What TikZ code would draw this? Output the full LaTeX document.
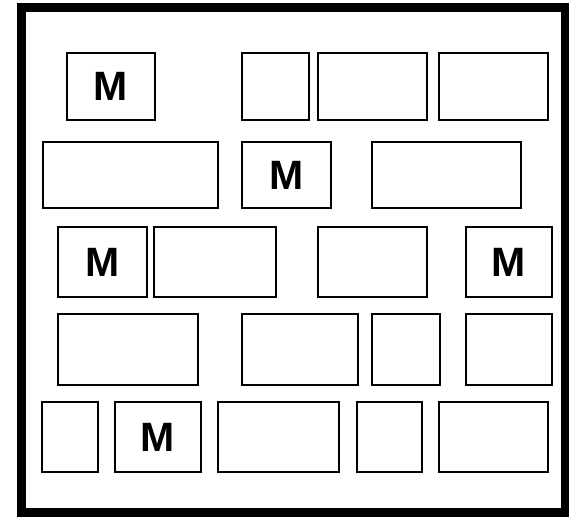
\documentclass[tikz,border=0pt]{standalone}
\usepackage{fontspec}
\setmainfont{Liberation Sans}
\usepackage{tikz}

\begin{document}
\begin{tikzpicture}[x=0.5pt,y=-0.5pt,
  b/.style={draw,line width=1.3pt,inner sep=0pt,outer sep=0pt,
    font=\fontsize{20.5}{24}\selectfont\bfseries},
  w/.style={minimum width=#1*0.5pt},
  h/.style={minimum height=#1*0.5pt}]
 \useasboundingbox (0,0) rectangle (569,517);
 \draw[line width=4.5pt] (21,8) rectangle (565.5,513);
 % row 1
 \node[b,w=88,h=67] (a1) at (111,86.5) {M};
 \node[b,w=67,h=67] (a2) at (275.5,86.5) {};
 \node[b,w=109,h=67] (a3) at (372.5,86.5) {};
 \node[b,w=109,h=67] (a4) at (493.5,86.5) {};
 % row 2
 \node[b,w=175,h=66] (b1) at (130.5,175) {};
 \node[b,w=89,h=66] (b2) at (286.5,175) {M};
 \node[b,w=149,h=66] (b3) at (446.5,175) {};
 % row 3
 \node[b,w=89,h=70] (c1) at (102.5,262) {M};
 \node[b,w=122,h=70] (c2) at (215,262) {};
 \node[b,w=109,h=70] (c3) at (372.5,262) {};
 \node[b,w=86,h=70] (c4) at (509,262) {M};
 % row 4
 \node[b,w=140,h=71] (d1) at (128,349.5) {};
 \node[b,w=116,h=71] (d2) at (300,349.5) {};
 \node[b,w=68,h=71] (d3) at (406,349.5) {};
 \node[b,w=86,h=71] (d4) at (509,349.5) {};
 % row 5
 \node[b,w=56,h=70] (e1) at (70,437) {};
 \node[b,w=86,h=70] (e2) at (158,437) {M};
 \node[b,w=121,h=70] (e3) at (278.5,437) {};
 \node[b,w=65,h=70] (e4) at (389.5,437) {};
 \node[b,w=109,h=70] (e5) at (493.5,437) {};
\end{tikzpicture}
\end{document}
